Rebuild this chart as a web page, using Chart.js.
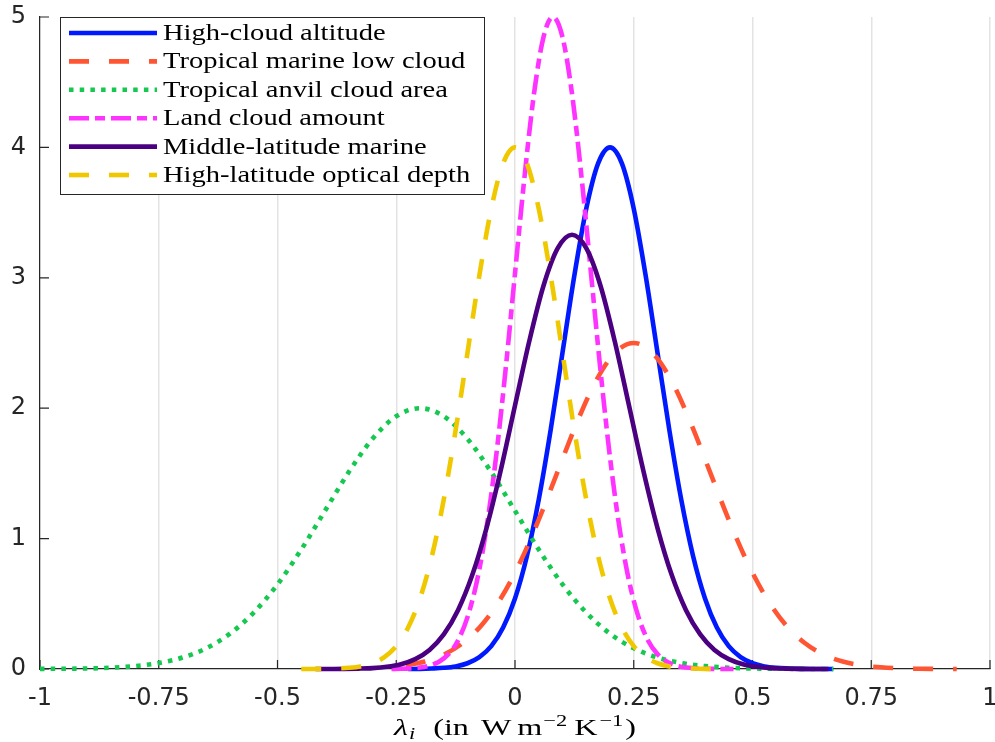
<!DOCTYPE html>
<html>
<head>
<meta charset="utf-8">
<script src="https://cdn.jsdelivr.net/npm/chart.js@4.4.0/dist/chart.umd.min.js"></script>
<style>
  body { margin: 0; background: #fff; }
  #wrap { width: 995px; height: 742px; }
</style>
</head>
<body>
<div id="wrap"><canvas id="Chart" width="995" height="742"></canvas></div>
<script>
// tick labels
const xTickLabels = ['-1', '-0.75', '-0.5', '-0.25', '0', '0.25', '0.5', '0.75', '1'];
const yTickLabels = ['0', '1', '2', '3', '4', '5'];

const seriesNames = [
  'High-cloud altitude',
  'Tropical marine low cloud',
  'Tropical anvil cloud area',
  'Land cloud amount',
  'Middle-latitude marine',
  'High-latitude optical depth'
];

// High-cloud altitude
const highCloudX = [-0.225, -0.2, -0.175, -0.15, -0.125, -0.1, -0.075, -0.05, -0.025, 0, 0.025, 0.05, 0.075, 0.1, 0.125, 0.15, 0.175, 0.2,
  0.225, 0.25, 0.275, 0.3, 0.325, 0.35, 0.375, 0.4, 0.425, 0.45, 0.475, 0.5, 0.525, 0.55, 0.575, 0.6, 0.625, 0.67];
const highCloudY = [0, 0.001, 0.004, 0.009, 0.02, 0.044, 0.091, 0.175, 0.318, 0.541, 0.865, 1.299, 1.831, 2.426, 3.019, 3.53, 3.877, 4,
  3.877, 3.53, 3.019, 2.426, 1.831, 1.299, 0.865, 0.541, 0.318, 0.175, 0.091, 0.044, 0.02, 0.009, 0.004, 0.001, 0, 0];

// Tropical marine low cloud
const lowCloudX = [-0.23, -0.19, -0.15, -0.11, -0.07, -0.03, 0.01, 0.05, 0.09, 0.13, 0.17, 0.21, 0.25,
  0.29, 0.33, 0.37, 0.41, 0.45, 0.49, 0.53, 0.57, 0.61, 0.65, 0.69, 0.73, 0.77, 0.81, 0.85, 0.89, 0.93];
const lowCloudY = [0.028, 0.057, 0.11, 0.199, 0.338, 0.541, 0.812, 1.145, 1.516, 1.887, 2.206, 2.423, 2.5,
  2.423, 2.206, 1.887, 1.516, 1.145, 0.812, 0.541, 0.338, 0.199, 0.11, 0.057, 0.028, 0.013, 0.005, 0.002, 0.001, 0];

// Tropical anvil cloud area
const anvilX = [-1, -0.95, -0.9, -0.85, -0.8, -0.75, -0.7, -0.65, -0.6, -0.55, -0.5, -0.45, -0.4, -0.35, -0.3, -0.25, -0.2,
  -0.15, -0.1, -0.05, 0, 0.05, 0.1, 0.15, 0.2, 0.25, 0.3, 0.35, 0.4, 0.45, 0.5, 0.55, 0.6, 0.65, 0.67];
const anvilY = [0.001, 0.002, 0.004, 0.01, 0.022, 0.046, 0.088, 0.159, 0.271, 0.433, 0.649, 0.916, 1.213, 1.51, 1.765, 1.938, 2,
  1.938, 1.765, 1.51, 1.213, 0.916, 0.649, 0.433, 0.271, 0.159, 0.088, 0.046, 0.022, 0.01, 0.004, 0.002, 0.001, 0, 0];

// Land cloud amount
const landX = [-0.26, -0.24, -0.22, -0.2, -0.18, -0.16, -0.14, -0.12, -0.1, -0.08, -0.06, -0.04, -0.02, 0, 0.02, 0.04, 0.06, 0.08,
  0.1, 0.12, 0.14, 0.16, 0.18, 0.2, 0.22, 0.24, 0.26, 0.28, 0.3, 0.32, 0.34, 0.36, 0.38, 0.4, 0.42, 0.44, 0.46];
const landY = [0.001, 0.002, 0.005, 0.011, 0.026, 0.056, 0.114, 0.219, 0.398, 0.677, 1.082, 1.623, 2.289, 3.033, 3.774, 4.412, 4.846, 5,
  4.846, 4.412, 3.774, 3.033, 2.289, 1.623, 1.082, 0.677, 0.398, 0.219, 0.114, 0.056, 0.026, 0.011, 0.005, 0.002, 0.001, 0, 0];

// Middle-latitude marine
const midLatX = [-0.42, -0.39, -0.36, -0.33, -0.3, -0.27, -0.24, -0.21, -0.18, -0.15, -0.12, -0.09, -0.06, -0.03, 0, 0.03, 0.06, 0.09, 0.12,
  0.15, 0.18, 0.21, 0.24, 0.27, 0.3, 0.33, 0.36, 0.39, 0.42, 0.45, 0.48, 0.51, 0.54, 0.57, 0.6, 0.63, 0.66];
const midLatY = [0, 0.0004, 0.001, 0.003, 0.007, 0.017, 0.037, 0.076, 0.146, 0.265, 0.451, 0.72, 1.081, 1.524, 2.02, 2.513, 2.939, 3.227, 3.33,
  3.227, 2.939, 2.513, 2.02, 1.524, 1.081, 0.72, 0.451, 0.265, 0.146, 0.076, 0.037, 0.017, 0.007, 0.003, 0.001, 0.0004, 0];

// High-latitude optical depth
const highLatX = [-0.45, -0.425, -0.4, -0.375, -0.35, -0.325, -0.3, -0.275, -0.25, -0.225, -0.2, -0.175, -0.15, -0.125, -0.1, -0.075, -0.05, -0.025, 0,
  0.025, 0.05, 0.075, 0.1, 0.125, 0.15, 0.175, 0.2, 0.225, 0.25, 0.275, 0.3, 0.325, 0.35, 0.375, 0.4, 0.425, 0.45];
const highLatY = [0, 0.0005, 0.001, 0.004, 0.009, 0.02, 0.044, 0.091, 0.175, 0.318, 0.541, 0.865, 1.299, 1.831, 2.426, 3.019, 3.53, 3.877, 4,
  3.877, 3.53, 3.019, 2.426, 1.831, 1.299, 0.865, 0.541, 0.318, 0.175, 0.091, 0.044, 0.02, 0.009, 0.004, 0.001, 0.0005, 0];

const colors = ['#0019ff', '#ff5533', '#14c850', '#ff33ff', '#4b0082', '#f0c800'];
const dashes = [[], [20, 20], [4.5, 6.2], [20, 6, 10, 6], [], [20, 20]];

function pts(xs, ys) {
  return xs.map((x, i) => ({ x: x, y: ys[i] }));
}

const allX = [highCloudX, lowCloudX, anvilX, landX, midLatX, highLatX];
const allY = [highCloudY, lowCloudY, anvilY, landY, midLatY, highLatY];

const datasets = seriesNames.map((name, i) => ({
  label: name,
  data: pts(allX[i], allY[i]),
  borderColor: colors[i],
  backgroundColor: colors[i],
  borderWidth: 4.6,
  borderDash: dashes[i],
  borderCapStyle: 'butt',
  pointRadius: 0,
  cubicInterpolationMode: 'monotone',
  fill: false,
  clip: false,
  order: seriesNames.length - i
}));

// inward tick marks on both axes
const tickMarks = {
  id: 'tickMarks',
  beforeDatasetsDraw(chart) {
    const ctx = chart.ctx;
    const xs = chart.scales.x, ys = chart.scales.y;
    const a = chart.chartArea;
    ctx.save();
    ctx.strokeStyle = '#262626';
    ctx.lineWidth = 1.2;
    ctx.beginPath();
    xs.ticks.forEach(t => {
      const px = xs.getPixelForValue(t.value);
      ctx.moveTo(px, a.bottom);
      ctx.lineTo(px, a.bottom - 9);
    });
    ys.ticks.forEach(t => {
      const py = ys.getPixelForValue(t.value);
      ctx.moveTo(a.left, py);
      ctx.lineTo(a.left + 9, py);
    });
    ctx.stroke();
    ctx.restore();
  }
};

// text in the reference is set wider than the installed fonts
const legendStretch = 1.24;
const labelStretch = 1.4;

// draw one piece of text stretched horizontally, return its width
function wideText(ctx, text, font, x, y, sx) {
  ctx.save();
  ctx.font = font;
  const w = ctx.measureText(text).width * sx;
  ctx.translate(x, y);
  ctx.scale(sx, 1);
  ctx.fillText(text, 0, 0);
  ctx.restore();
  return w;
}

// legend box inside the plot, and the x-axis label
const boxLegend = {
  id: 'boxLegend',
  afterDraw(chart) {
    const ctx = chart.ctx;
    const left = 60, top = 17, w = 424, h = 177;
    ctx.save();
    ctx.fillStyle = '#fff';
    ctx.fillRect(left, top, w, h);
    ctx.strokeStyle = '#262626';
    ctx.lineWidth = 1;
    ctx.strokeRect(left + 0.5, top + 0.5, w, h);
    ctx.textBaseline = 'middle';
    seriesNames.forEach((name, i) => {
      const y = 33 + i * 28.4;
      ctx.beginPath();
      ctx.strokeStyle = colors[i];
      ctx.lineWidth = 4.6;
      ctx.setLineDash(dashes[i]);
      ctx.moveTo(69, y);
      ctx.lineTo(157, y);
      ctx.stroke();
      ctx.setLineDash([]);
      ctx.fillStyle = '#000';
      wideText(ctx, name, '23px "Liberation Serif"', 163, y + 1, legendStretch);
    });

    // x-axis label: lambda_i (in W m^-2 K^-1)
    const base = 735;
    const big = '23px "Liberation Serif"';
    const small = '16px "Liberation Serif"';
    const parts = [
      { t: 'λ', f: 'italic ' + big, dy: 0, gap: 0 },
      { t: 'i', f: 'italic ' + small, dy: 4, gap: 1 },
      { t: '(in', f: big, dy: 0, gap: 18 },
      { t: 'W', f: big, dy: 0, gap: 12 },
      { t: 'm', f: big, dy: 0, gap: 6 },
      { t: '−2', f: small, dy: -9, gap: 1 },
      { t: 'K', f: big, dy: 0, gap: 7 },
      { t: '−1', f: small, dy: -9, gap: 2 },
      { t: ')', f: big, dy: 0, gap: 2 }
    ];
    ctx.textBaseline = 'alphabetic';
    ctx.textAlign = 'left';
    ctx.fillStyle = '#000';
    let total = 0;
    parts.forEach(p => { ctx.font = p.f; total += p.gap + ctx.measureText(p.t).width * labelStretch; });
    let x = (chart.chartArea.left + chart.chartArea.right) / 2 - total / 2;
    parts.forEach(p => {
      x += p.gap;
      x += wideText(ctx, p.t, p.f, x, base + p.dy, labelStretch);
    });
    ctx.restore();
  }
};

const ctx = document.getElementById('Chart').getContext('2d');
const myChart = new Chart(ctx, {
  type: 'line',
  data: { datasets: datasets },
  options: {
    responsive: false,
    animation: false,
    layout: { padding: { top: 17, right: 5, left: 0, bottom: 0 } },
    plugins: {
      legend: { display: false },
      tooltip: { enabled: false }
    },
    scales: {
      x: {
        type: 'linear',
        min: -1,
        max: 1,
        ticks: {
          stepSize: 0.25,
          padding: 15,
          maxRotation: 0,
          color: '#262626',
          font: { family: 'DejaVu Sans', size: 24 },
          callback: (v, i) => xTickLabels[i]
        },
        grid: { color: '#e3e3e3', lineWidth: 1.5, drawTicks: false },
        border: { display: true, color: '#262626', width: 1.2 },
        afterFit: s => { s.height = 73; s.paddingLeft = 0; s.paddingRight = 0; }
      },
      y: {
        min: 0,
        max: 5,
        ticks: {
          stepSize: 1,
          padding: 14,
          color: '#262626',
          font: { family: 'DejaVu Sans', size: 24 },
          callback: (v, i) => yTickLabels[i]
        },
        grid: { display: false, drawTicks: false },
        border: { display: true, color: '#262626', width: 1.2 },
        afterFit: s => { s.width = 40; s.paddingTop = 0; s.paddingBottom = 0; }
      }
    }
  },
  plugins: [tickMarks, boxLegend]
});
</script>
</body>
</html>
